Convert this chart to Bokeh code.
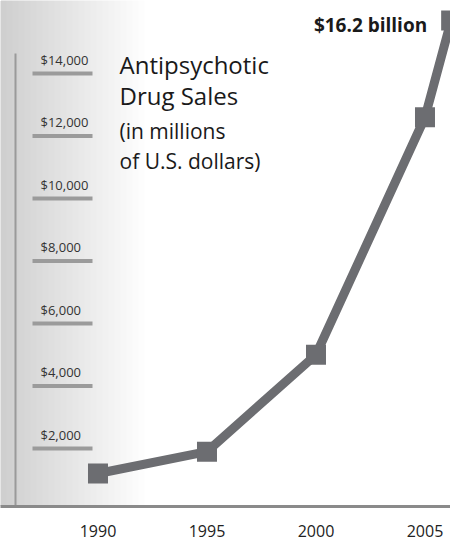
from bokeh.plotting import figure
from bokeh.models import Range1d, FixedTicker, BoxAnnotation
from bokeh.core.properties import value
from bokeh.embed import file_html
from bokeh.resources import INLINE

# ---- data ----
years = [1990, 1995, 2000, 2005, 2006.2]
sales = [1200, 1900, 5000, 12600, 15700]          # millions of US$
x_ticks = [1990, 1995, 2000, 2005]
y_ticks = [2000, 4000, 6000, 8000, 10000, 12000, 14000]
y_tick_labels = ["$2,000", "$4,000", "$6,000", "$8,000", "$10,000", "$12,000", "$14,000"]
peak_label = ["$16.2 billion"]
title_big = ["Antipsychotic", "Drug Sales"]
title_small = ["(in millions", "of U.S. dollars)"]

# ---- layout ----
W, H = 450, 540
FRAME_H = 506
X0, X1 = 1985.528, 2006.170
Y0, Y1 = 144, 16336
PX_X = (X1 - X0) / W
PX_Y = (Y1 - Y0) / FRAME_H


def xpx(px):
    return X0 + px * PX_X


def ypx(py):
    return Y1 - py * PX_Y


LINE_COLOR = "#6c6d71"
FONT = "Open Sans"

p = figure(width=W, height=H, x_range=Range1d(X0, X1), y_range=Range1d(Y0, Y1),
           output_backend="svg", toolbar_location=None, y_axis_location=None,
           min_border_left=0, min_border_right=0, min_border_top=0, min_border_bottom=H - FRAME_H)
p.grid.visible = False
p.outline_line_color = None
p.background_fill_color = "white"
p.border_fill_color = "white"

# faded backdrop on the left (smooth gradient from stacked translucent bands)
for r_px in range(6, 150, 6):
    p.add_layout(BoxAnnotation(right=xpx(r_px), fill_color="#8f8f8f", fill_alpha=0.016,
                               line_color=None, level="underlay"))

# x axis
ax = p.xaxis[0]
ax.ticker = FixedTicker(ticks=x_ticks)
ax.major_tick_line_color = None
ax.minor_tick_line_color = None
ax.axis_line_color = "#8a8a8a"
ax.axis_line_width = 3
ax.major_label_text_font = FONT
ax.major_label_text_font_size = "16px"
ax.major_label_text_color = "#222222"
ax.major_label_standoff = 12

# vertical axis line
p.segment(x0=[xpx(15)], x1=[xpx(15)], y0=[Y0], y1=[ypx(53)], line_color="#9a9a9a", line_width=2)

# y tick bars and labels
p.segment(x0=[xpx(32)] * len(y_ticks), x1=[xpx(92)] * len(y_ticks), y0=y_ticks, y1=y_ticks,
          line_color="#9b9b9b", line_width=4)
p.text(x=[xpx(40)] * len(y_ticks), y=y_ticks, text=y_tick_labels, y_offset=-14,
       text_font=value(FONT), text_font_size="13px", text_color="#333333",
       text_align="left", text_baseline="middle")

# title
p.text(x=[xpx(119)] * 2, y=[ypx(64), ypx(95)], text=title_big,
       text_font=value(FONT), text_font_size="24px",
       text_color="#1a1a1a", text_align="left", text_baseline="alphabetic")
p.text(x=[xpx(119)] * 2, y=[ypx(130), ypx(160)], text=title_small,
       text_font=value(FONT), text_font_size="21px",
       text_color="#1a1a1a", text_align="left", text_baseline="alphabetic")

# series
p.line(years, sales, line_color=LINE_COLOR, line_width=9)
p.scatter(years, sales, marker="square", size=20, fill_color=LINE_COLOR, line_color=None)

# peak annotation
p.text(x=[years[-1]], y=[sales[-1]], text=peak_label, x_offset=-24, y_offset=5,
       text_font=value(FONT), text_font_size="19px", text_font_style="bold",
       text_color="#1a1a1a", text_align="right", text_baseline="middle")

open("out.html", "w").write(file_html(p, INLINE))
